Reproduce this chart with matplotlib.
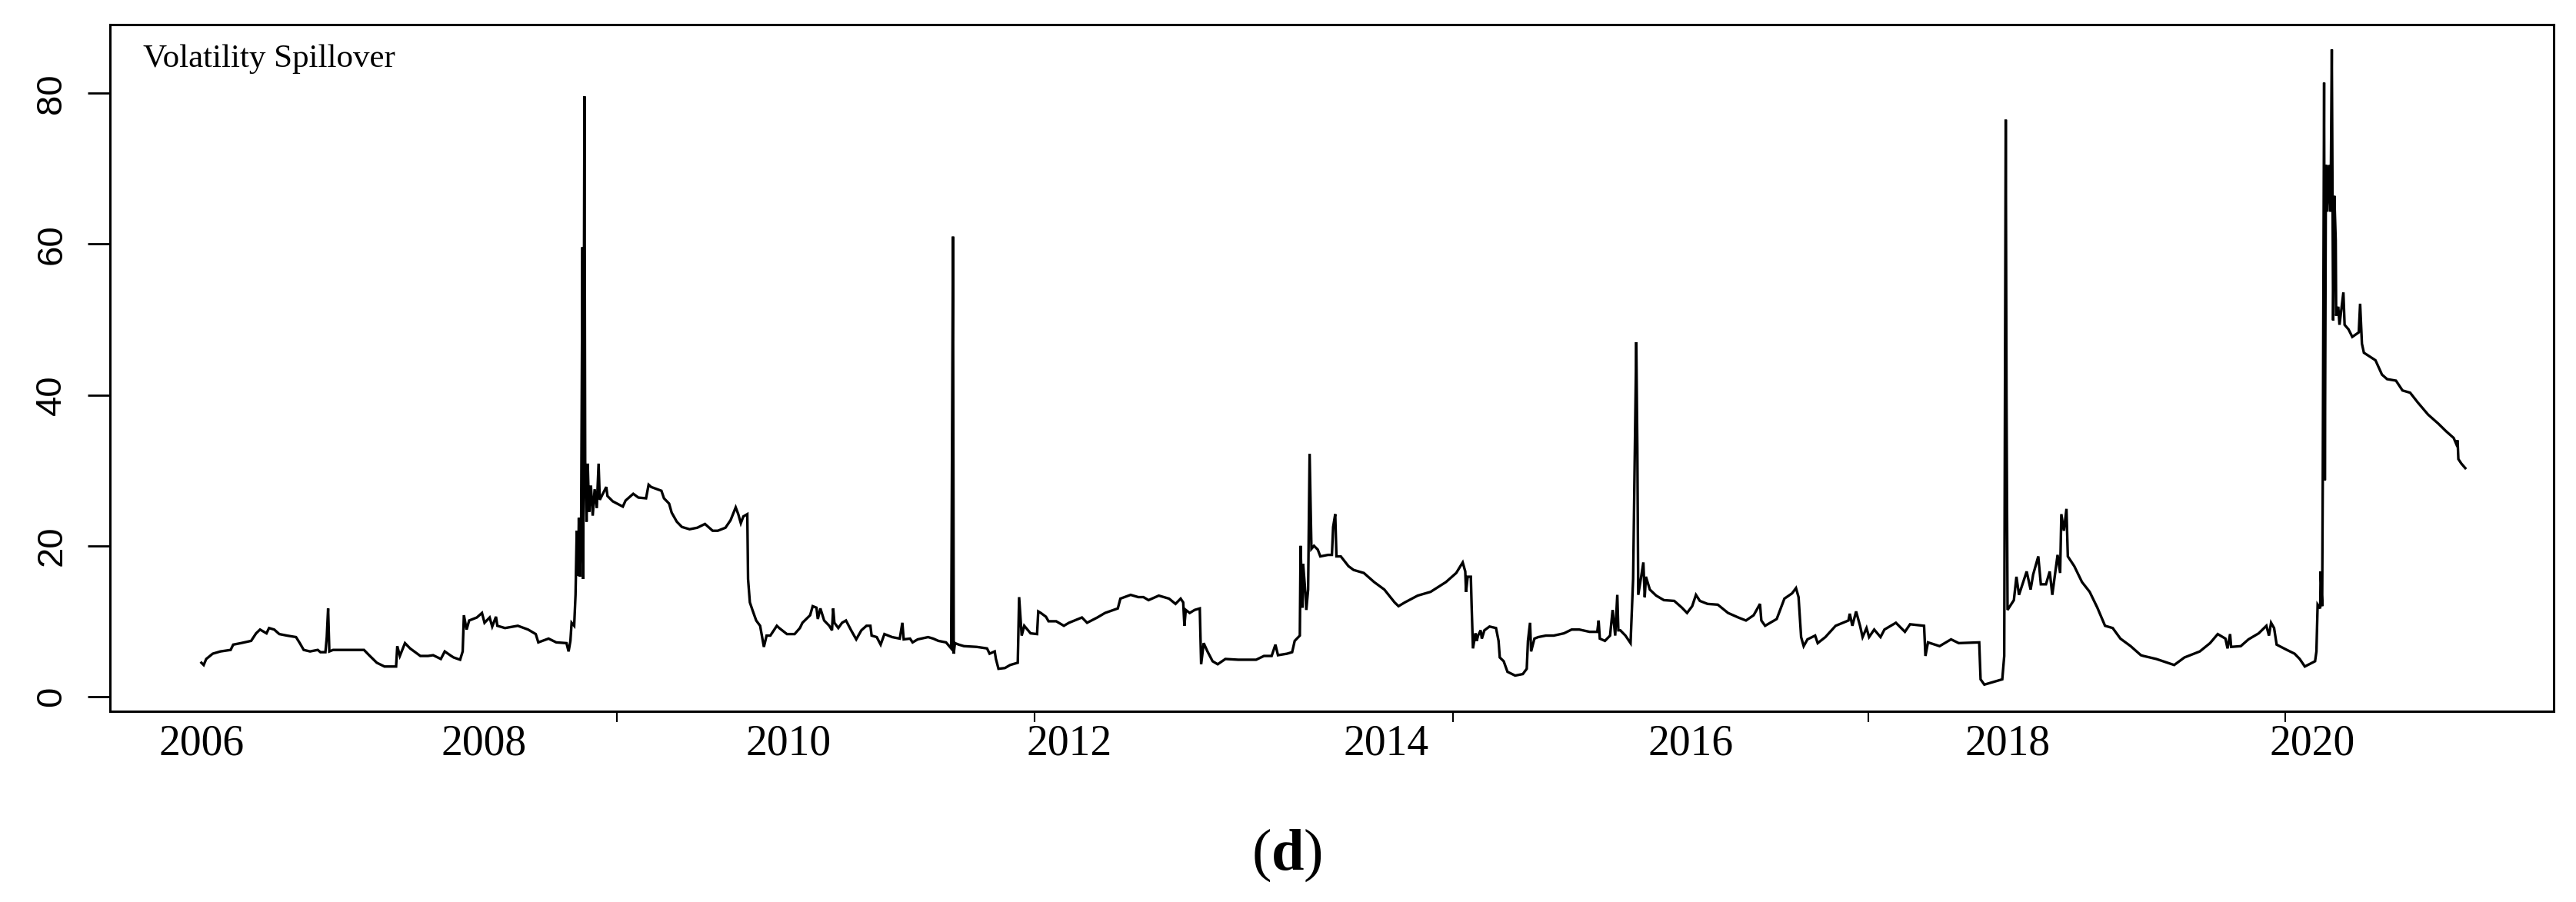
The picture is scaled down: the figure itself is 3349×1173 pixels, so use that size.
import matplotlib
matplotlib.use("Agg")
import matplotlib.pyplot as plt

# --- series, segment by segment (decimal years, spillover %) ---
t_a = [2006.000, 2006.015, 2006.032, 2006.075, 2006.126, 2006.194, 2006.211, 2006.262,
       2006.330, 2006.363, 2006.389, 2006.432, 2006.449, 2006.483, 2006.517, 2006.568,
       2006.628, 2006.653, 2006.679, 2006.721, 2006.772, 2006.790, 2006.823, 2006.832,
       2006.841, 2006.849, 2006.874, 2006.926, 2006.994, 2007.079, 2007.113, 2007.164,
       2007.215, 2007.292, 2007.300, 2007.317, 2007.351, 2007.385, 2007.453, 2007.504,
       2007.538, 2007.589, 2007.615, 2007.658]
v_a = [4.5, 4.2, 5.0, 5.7, 6.0, 6.2, 6.9, 7.1,
       7.4, 8.4, 8.9, 8.4, 9.1, 8.9, 8.3, 8.1,
       7.9, 7.1, 6.2, 6.0, 6.2, 5.9, 5.9, 7.9,
       11.7, 6.0, 6.2, 6.2, 6.2, 6.2, 5.5, 4.5,
       4.0, 4.0, 6.7, 5.4, 7.1, 6.4, 5.4, 5.4,
       5.5, 5.0, 6.0, 5.4]

t_b = [2007.674, 2007.717, 2007.734, 2007.742, 2007.760, 2007.777, 2007.828, 2007.862,
       2007.879, 2007.913, 2007.930, 2007.955, 2007.964, 2008.015, 2008.100, 2008.168,
       2008.219, 2008.236, 2008.304, 2008.355, 2008.423, 2008.437, 2008.449, 2008.457,
       2008.474, 2008.483, 2008.491, 2008.500, 2008.505, 2008.512, 2008.520, 2008.529,
       2008.534, 2008.542, 2008.547, 2008.556, 2008.564, 2008.573, 2008.585, 2008.597,
       2008.610, 2008.624, 2008.636, 2008.644, 2008.687, 2008.695, 2008.730, 2008.797,
       2008.815, 2008.866, 2008.900, 2008.951, 2008.968, 2008.985, 2009.053, 2009.070,
       2009.104, 2009.121, 2009.155, 2009.189, 2009.240, 2009.291, 2009.342, 2009.393,
       2009.427, 2009.478, 2009.512, 2009.546, 2009.563, 2009.580, 2009.597, 2009.623,
       2009.628, 2009.640, 2009.657, 2009.682, 2009.708, 2009.733, 2009.751, 2009.776,
       2009.819, 2009.835, 2009.886, 2009.937, 2009.972]
v_b = [5.2, 4.9, 6.0, 10.8, 8.9, 10.1, 10.5, 11.1,
       9.8, 10.5, 9.3, 10.6, 9.4, 9.1, 9.4, 8.9,
       8.3, 7.2, 7.7, 7.2, 7.1, 6.0, 7.4, 9.8,
       9.4, 13.5, 22.0, 16.0, 23.7, 15.9, 22.0, 59.6,
       15.6, 79.6, 31.2, 23.2, 30.9, 24.5, 28.0, 24.0,
       27.5, 25.0, 30.9, 26.1, 27.8, 26.6, 25.9, 25.2,
       26.0, 26.9, 26.4, 26.3, 28.1, 27.8, 27.3, 26.3,
       25.6, 24.4, 23.2, 22.5, 22.2, 22.4, 22.9, 22.0,
       22.0, 22.4, 23.4, 25.1, 24.2, 23.0, 23.9, 24.2,
       15.6, 12.5, 11.5, 10.1, 9.4, 6.6, 8.1, 8.1,
       9.4, 9.1, 8.3, 8.3, 9.1]

t_c = [2009.989, 2010.040, 2010.057, 2010.082, 2010.091, 2010.108, 2010.133, 2010.167,
       2010.185, 2010.193, 2010.201, 2010.227, 2010.252, 2010.278, 2010.312, 2010.346,
       2010.380, 2010.414, 2010.440, 2010.448, 2010.482, 2010.508, 2010.533, 2010.584,
       2010.635, 2010.652, 2010.661, 2010.703, 2010.720, 2010.754, 2010.823, 2010.857,
       2010.891, 2010.942, 2010.976, 2010.988, 2010.993, 2011.001, 2011.027, 2011.061,
       2011.146, 2011.214, 2011.231, 2011.265, 2011.273, 2011.290, 2011.333, 2011.367,
       2011.418, 2011.427, 2011.435, 2011.444, 2011.461, 2011.503, 2011.546, 2011.554,
       2011.571, 2011.605, 2011.622, 2011.673, 2011.724, 2011.758, 2011.844, 2011.878,
       2011.946, 2011.997, 2012.082, 2012.099, 2012.167, 2012.218]
v_c = [9.8, 10.8, 12.0, 11.8, 10.3, 11.7, 10.1, 9.4,
       8.8, 11.7, 9.8, 9.1, 9.8, 10.1, 8.8, 7.6,
       8.8, 9.4, 9.4, 8.1, 7.9, 6.9, 8.3, 7.9,
       7.7, 9.8, 7.6, 7.7, 7.2, 7.6, 7.9, 7.7,
       7.4, 7.2, 6.4, 61.0, 5.7, 7.1, 6.9, 6.7,
       6.6, 6.4, 5.7, 6.0, 5.0, 3.7, 3.8, 4.2,
       4.5, 13.2, 10.8, 8.1, 9.4, 8.4, 8.3, 11.3,
       11.1, 10.6, 10.0, 10.0, 9.4, 9.8, 10.5, 9.8,
       10.5, 11.1, 11.7, 13.0, 13.5, 13.2]

t_d = [2012.252, 2012.286, 2012.354, 2012.422, 2012.465, 2012.499, 2012.516, 2012.524,
       2012.533, 2012.559, 2012.592, 2012.626, 2012.635, 2012.652, 2012.677, 2012.711,
       2012.745, 2012.796, 2012.881, 2013.000, 2013.052, 2013.103, 2013.128, 2013.145,
       2013.205, 2013.239, 2013.256, 2013.290, 2013.295, 2013.307, 2013.312, 2013.324,
       2013.333, 2013.345, 2013.355, 2013.367, 2013.384, 2013.409, 2013.426, 2013.477,
       2013.503, 2013.511, 2013.525, 2013.533, 2013.562, 2013.613, 2013.647, 2013.715,
       2013.783, 2013.851, 2013.919, 2013.945, 2013.987, 2014.072, 2014.158, 2014.260,
       2014.328, 2014.371, 2014.388, 2014.393, 2014.404, 2014.425, 2014.430, 2014.439,
       2014.456, 2014.464]
v_d = [13.2, 12.8, 13.4, 13.0, 12.3, 13.0, 12.5, 9.4,
       11.5, 11.1, 11.5, 11.7, 4.3, 7.1, 6.0, 4.7,
       4.3, 5.0, 4.9, 4.9, 5.4, 5.4, 6.9, 5.5,
       5.7, 5.9, 7.4, 8.1, 20.0, 11.8, 17.6, 14.5,
       11.5, 14.2, 32.2, 19.6, 20.0, 19.5, 18.6, 18.8,
       18.8, 22.5, 24.2, 18.6, 18.6, 17.3, 16.8, 16.4,
       15.2, 14.2, 12.5, 12.0, 12.5, 13.4, 13.9, 15.2,
       16.4, 17.8, 16.6, 13.9, 15.9, 15.9, 12.2, 6.4,
       8.4, 7.4]

t_e = [2014.473, 2014.490, 2014.498, 2014.515, 2014.549, 2014.592, 2014.609, 2014.617,
       2014.643, 2014.668, 2014.719, 2014.770, 2014.796, 2014.804, 2014.818, 2014.825,
       2014.847, 2014.872, 2014.923, 2014.975, 2015.043, 2015.094, 2015.145, 2015.213,
       2015.264, 2015.273, 2015.281, 2015.315, 2015.349, 2015.366, 2015.383, 2015.397,
       2015.404, 2015.417, 2015.451, 2015.485, 2015.502, 2015.523, 2015.530, 2015.536,
       2015.553, 2015.570, 2015.579, 2015.587, 2015.613, 2015.655, 2015.706, 2015.775,
       2015.826, 2015.860, 2015.894, 2015.919, 2015.945, 2015.996, 2016.064, 2016.132,
       2016.200, 2016.251, 2016.302, 2016.344, 2016.353, 2016.378, 2016.455, 2016.506,
       2016.557, 2016.583, 2016.600, 2016.617, 2016.634, 2016.659, 2016.710]
v_e = [8.1, 8.8, 7.7, 8.8, 9.3, 9.1, 7.4, 5.2,
       4.7, 3.3, 2.8, 3.0, 3.7, 7.4, 9.8, 6.0,
       7.7, 7.9, 8.1, 8.1, 8.4, 8.9, 8.9, 8.6,
       8.6, 10.1, 7.7, 7.4, 8.1, 11.5, 8.1, 13.5,
       8.8, 8.8, 8.1, 7.1, 15.6, 47.0, 33.0, 13.5,
       15.6, 17.8, 13.2, 15.9, 14.2, 13.4, 12.8, 12.7,
       11.8, 11.1, 12.0, 13.5, 12.7, 12.3, 12.2, 11.1,
       10.5, 10.1, 10.8, 12.3, 10.1, 9.4, 10.3, 13.0,
       13.7, 14.4, 13.2, 7.9, 6.7, 7.6, 8.1]

t_f = [2016.727, 2016.778, 2016.846, 2016.931, 2016.940, 2016.957, 2016.982, 2017.008,
       2017.025, 2017.051, 2017.068, 2017.102, 2017.144, 2017.170, 2017.246, 2017.306,
       2017.340, 2017.433, 2017.442, 2017.459, 2017.536, 2017.612, 2017.663, 2017.799,
       2017.808, 2017.833, 2017.952, 2017.965, 2017.975, 2017.980, 2017.987, 2018.029,
       2018.046, 2018.063, 2018.114, 2018.140, 2018.157, 2018.191, 2018.208, 2018.242,
       2018.267, 2018.284, 2018.319, 2018.336, 2018.344, 2018.361, 2018.378, 2018.387,
       2018.430, 2018.481, 2018.532, 2018.583, 2018.634, 2018.685, 2018.736, 2018.804,
       2018.872]
v_f = [7.1, 7.9, 9.4, 10.1, 11.0, 9.4, 11.3, 9.4,
       7.9, 9.1, 7.9, 8.9, 7.9, 8.9, 9.8, 8.6,
       9.6, 9.4, 5.4, 7.2, 6.7, 7.6, 7.1, 7.2,
       2.3, 1.6, 2.3, 5.4, 76.5, 40.0, 11.5, 12.8,
       15.9, 13.5, 16.6, 14.2, 16.2, 18.6, 14.9, 14.9,
       16.6, 13.5, 18.8, 16.4, 24.2, 22.0, 24.9, 18.6,
       17.3, 15.2, 13.9, 11.8, 9.4, 9.1, 7.7, 6.7,
       5.5]

t_g = [2018.889, 2018.974, 2019.093, 2019.161, 2019.263, 2019.331, 2019.382, 2019.433,
       2019.447, 2019.464, 2019.471, 2019.535, 2019.586, 2019.654, 2019.705, 2019.722,
       2019.736, 2019.756, 2019.773, 2019.841, 2019.892, 2019.926, 2019.960, 2020.028,
       2020.037, 2020.045, 2020.062, 2020.065, 2020.075, 2020.079, 2020.088, 2020.093,
       2020.100, 2020.110, 2020.120, 2020.131, 2020.139, 2020.148, 2020.156, 2020.165,
       2020.168, 2020.182, 2020.190, 2020.216, 2020.224, 2020.250, 2020.275, 2020.318,
       2020.327, 2020.339, 2020.352, 2020.429, 2020.472, 2020.506, 2020.565, 2020.608,
       2020.659, 2020.710, 2020.778, 2020.846, 2020.897, 2020.948, 2020.965, 2020.974,
       2020.979, 2020.999, 2021.025]
v_g = [5.4, 5.0, 4.2, 5.2, 6.0, 7.1, 8.3, 7.7,
       6.4, 8.3, 6.6, 6.7, 7.6, 8.4, 9.4, 8.1,
       9.8, 9.1, 6.9, 6.2, 5.7, 5.0, 4.0, 4.7,
       6.0, 12.2, 11.7, 16.6, 12.0, 28.5, 81.4, 28.7,
       70.5, 64.3, 70.5, 64.3, 85.8, 49.9, 66.4, 60.5,
       50.5, 51.7, 49.3, 53.6, 49.3, 48.7, 47.7, 48.3,
       52.1, 46.8, 45.6, 44.6, 42.7, 42.1, 41.9, 40.6,
       40.3, 39.0, 37.4, 36.2, 35.2, 34.3, 33.5, 34.0,
       31.5, 30.9, 30.3]

# axis labels / tick marks as they sit in the figure
year_labels = ['2006', '2008', '2010', '2012', '2014', '2016', '2018', '2020']
label_pos = [2006.000, 2007.874, 2009.895, 2011.758, 2013.862, 2015.883, 2017.987, 2020.008]
tick_marks = [2006.000, 2008.757, 2011.529, 2014.306, 2017.063, 2019.830]
y_ticks = [0, 20, 40, 60, 80]

t = t_a + t_b + t_c + t_d + t_e + t_f + t_g
v = v_a + v_b + v_c + v_d + v_e + v_f + v_g
assert len(t) == len(v)

plt.rcParams['mathtext.fontset'] = 'custom'
plt.rcParams['mathtext.rm'] = 'Liberation Serif'
plt.rcParams['mathtext.bf'] = 'Liberation Serif:bold'

fig = plt.figure(figsize=(33.49, 11.73), dpi=100)
ax = fig.add_axes([0.0428, 0.2114, 0.9485, 0.7613])

ax.plot(t, v, color='black', lw=2.4, solid_joinstyle='miter')

ax.set_xlim(2005.395, 2021.611)
ax.set_ylim(-1.94, 89.1)

for s in ax.spines.values():
    s.set_linewidth(2.2)

ax.set_yticks(y_ticks)
ax.set_yticklabels([str(y) for y in y_ticks], rotation=90, va='center',
                   family='Liberation Sans', fontsize=34)
ax.tick_params(axis='y', length=21, width=2.0, pad=18)

ax.set_xticks(label_pos)
ax.set_xticklabels(year_labels, family='Liberation Serif', fontsize=40)
ax.set_xticks(tick_marks, minor=True)
ax.tick_params(axis='x', which='major', length=0, pad=12)
ax.tick_params(axis='x', which='minor', length=10, width=1.5)

ax.text(0.0133, 0.9496, 'Volatility Spillover', transform=ax.transAxes,
        family='Liberation Serif', fontsize=31, ha='left', va='center')

fig.text(0.4996, 0.052, r'($\mathbf{d}$)', family='Liberation Serif', fontsize=55,
         ha='center', va='center')

fig.savefig('out.png', dpi=100)
